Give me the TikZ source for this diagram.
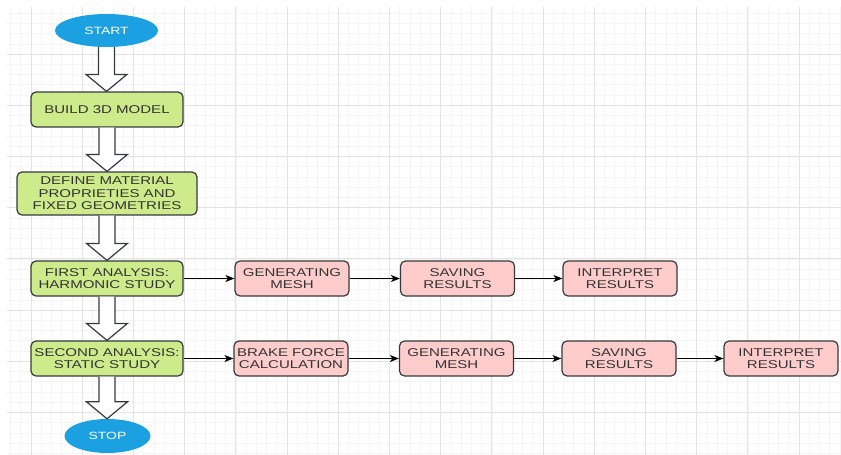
\documentclass[tikz,border=0pt]{standalone}
\usepackage{fontspec}
\newfontfamily\flowfont[FakeStretch=1.33]{Liberation Sans}
\usetikzlibrary{arrows.meta,calc,shapes.geometric}
\definecolor{stepgreen}{HTML}{CDEB8B}
\definecolor{steppink}{HTML}{FFCCCC}
\definecolor{termblue}{HTML}{1BA1E2}
\definecolor{edgegray}{HTML}{36393D}
\definecolor{textgray}{HTML}{333333}
\newcommand{\bigarrow}[2]{%
    \draw[bigarr] let \p1=(#1.south), \p2=(#2.north) in
        (\x1-8pt,\y1) -- (\x1-8pt,\y2+17pt) -- (\x1-20.5pt,\y2+17pt) -- (\x1,\y2)
        -- (\x1+20.5pt,\y2+17pt) -- (\x1+8pt,\y2+17pt) -- (\x1+8pt,\y1);}
\begin{document}
\begin{tikzpicture}[
        x=1pt, y=-1pt,
        gridminor/.style={draw=black!4, line width=0.5pt},
        gridmajor/.style={draw=black!11, line width=0.7pt},
        box/.style={draw=edgegray, line width=1.2pt, rounded corners=5pt, align=center,
            inner sep=0pt, text=textgray, font=\flowfont\fontsize{11.3}{12.6}\selectfont},
        mainstep/.style={box, fill=stepgreen, minimum width=152pt, minimum height=35pt},
        substep/.style={box, fill=steppink, minimum width=114pt, minimum height=35pt},
        term/.style={ellipse, fill=termblue, draw=none, inner sep=0pt, text=white,
            font=\flowfont\fontsize{10.5}{12}\selectfont},
        bigarr/.style={draw=edgegray, line width=1.2pt, fill=white, line join=miter},
        flowarr/.style={draw=black, line width=1pt, -{Stealth[length=9pt,width=7pt,inset=2.5pt]}},
    ]
    \useasboundingbox (0,0) rectangle (841,455);
    \begin{scope}
        \clip (7,7) rectangle (841,455);
        \foreach \i in {0,...,81} \draw[gridminor] ({10.5+10.24*\i},7) -- ++(0,448);
        \foreach \j in {0,...,44} \draw[gridminor] (7,{2.8+10.24*\j}) -- ++(834,0);
        \foreach \i in {0,...,16} \draw[gridmajor] ({31+51.2*\i},7) -- ++(0,448);
        \foreach \j in {0,...,8} \draw[gridmajor] (7,{2.8+51.2*\j}) -- ++(834,0);
    \end{scope}

    \node[term, minimum width=103pt, minimum height=33pt] (start) at (106.5,30.5) {START};
    \node[mainstep] (model) at (107,109.5) {BUILD 3D MODEL};
    \node[mainstep, minimum width=180pt, minimum height=43pt] (material) at (107,193.5)
        {DEFINE MATERIAL\\PROPRIETIES AND\\FIXED GEOMETRIES};
    \node[mainstep] (harmonic) at (107,278.5) {FIRST ANALYSIS:\\HARMONIC STUDY};
    \node[mainstep] (static) at (107,358.5) {SECOND ANALYSIS:\\STATIC STUDY};
    \node[term, minimum width=86pt, minimum height=34pt] (stop) at (107.5,436) {STOP};

    \node[substep] (hmesh) at (292,278.5) {GENERATING\\MESH};
    \node[substep] (hsave) at (457.5,278.5) {SAVING\\RESULTS};
    \node[substep] (hread) at (620,278.5) {INTERPRET\\RESULTS};

    \node[substep] (force) at (291,358.5) {BRAKE FORCE\\CALCULATION};
    \node[substep] (smesh) at (456.5,358.5) {GENERATING\\MESH};
    \node[substep] (ssave) at (619,358.5) {SAVING\\RESULTS};
    \node[substep] (sread) at (781,358.5) {INTERPRET\\RESULTS};

    \bigarrow{start}{model}
    \bigarrow{model}{material}
    \bigarrow{material}{harmonic}
    \bigarrow{harmonic}{static}
    \bigarrow{static}{stop}

    \draw[flowarr] (harmonic) -- (hmesh);
    \draw[flowarr] (hmesh) -- (hsave);
    \draw[flowarr] (hsave) -- (hread);
    \draw[flowarr] (static) -- (force);
    \draw[flowarr] (force) -- (smesh);
    \draw[flowarr] (smesh) -- (ssave);
    \draw[flowarr] (ssave) -- (sread);
\end{tikzpicture}
\end{document}
